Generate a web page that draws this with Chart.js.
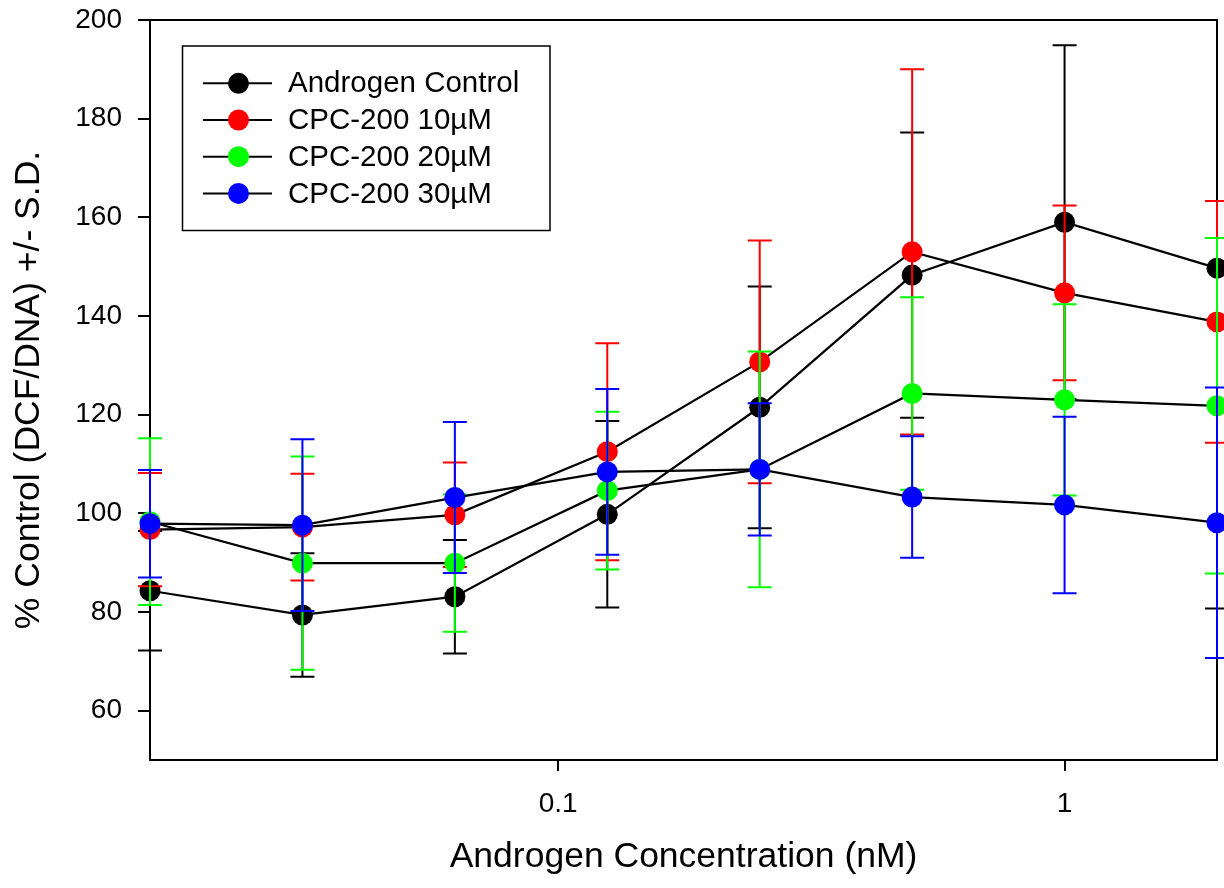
<!DOCTYPE html>
<html>
<head>
<meta charset="utf-8">
<script src="https://cdn.jsdelivr.net/npm/chart.js@4/dist/chart.umd.min.js"></script>
<style>
  html, body { margin: 0; padding: 0; background: #fff; }
</style>
</head>
<body>
<canvas id="myChart" width="1224" height="888"></canvas>
<script>
// androgen concentrations (nM)
const conc = [0.015625, 0.03125, 0.0625, 0.125, 0.25, 0.5, 1, 2];

const seriesNames = ['Androgen Control', 'CPC-200 10µM', 'CPC-200 20µM', 'CPC-200 30µM'];
const seriesColors = ['#000000', '#ff0000', '#00ff00', '#0000ff'];

const controlMean = [84.3, 79.4, 83.1, 99.8, 121.5, 148.3, 159.0, 149.7];
const controlSD   = [12.1, 12.5, 11.5, 18.9, 24.5, 28.9, 35.9, 69.0];

const cpc10Mean = [96.7, 97.2, 99.7, 112.5, 130.7, 153.0, 144.7, 138.8];
const cpc10SD   = [11.5, 10.8, 10.6, 22.0, 24.6, 37.0, 17.7, 24.5];

const cpc20Mean = [98.3, 89.9, 89.9, 104.6, 108.9, 124.3, 123.0, 121.8];
const cpc20SD   = [16.9, 21.6, 13.9, 16.0, 23.9, 19.5, 19.4, 34.0];

const cpc30Mean = [97.9, 97.6, 103.2, 108.4, 108.9, 103.3, 101.7, 98.1];
const cpc30SD   = [10.9, 17.4, 15.3, 16.8, 13.4, 12.3, 17.9, 27.4];

const xTickValues = [0.1, 1];
const yTickValues = [60, 80, 100, 120, 140, 160, 180, 200];

const means = [controlMean, cpc10Mean, cpc20Mean, cpc30Mean];
const sds = [controlSD, cpc10SD, cpc20SD, cpc30SD];

const FONT = "'Liberation Sans', Arial, Helvetica, sans-serif";

// error bars drawn per dataset, just before its line and markers
const errorBars = {
  id: 'errorBars',
  beforeDatasetDraw(chart, args) {
    const ds = chart.data.datasets[args.index];
    const {ctx, chartArea, scales: {x, y}} = chart;
    ctx.save();
    ctx.beginPath();
    ctx.rect(0, chartArea.top, chart.width, chartArea.bottom - chartArea.top);
    ctx.clip();
    ctx.strokeStyle = ds.pointBackgroundColor;
    ctx.lineWidth = 2;
    ds.data.forEach((p, i) => {
      const px = x.getPixelForValue(p.x);
      const top = y.getPixelForValue(p.y + ds.sd[i]);
      const bot = y.getPixelForValue(p.y - ds.sd[i]);
      ctx.beginPath();
      ctx.moveTo(px, top); ctx.lineTo(px, bot);
      ctx.moveTo(px - 12, top); ctx.lineTo(px + 12, top);
      ctx.moveTo(px - 12, bot); ctx.lineTo(px + 12, bot);
      ctx.stroke();
    });
    ctx.restore();
  }
};

// top and right sides of the frame
const frame = {
  id: 'frame',
  beforeDatasetsDraw(chart) {
    const {ctx, chartArea: a} = chart;
    ctx.save();
    ctx.strokeStyle = '#000';
    ctx.lineWidth = 2;
    ctx.beginPath();
    ctx.moveTo(a.left, a.top);
    ctx.lineTo(a.right, a.top);
    ctx.lineTo(a.right, a.bottom);
    ctx.stroke();
    ctx.restore();
  }
};

// boxed legend with line + marker samples
const boxLegend = {
  id: 'boxLegend',
  afterDraw(chart) {
    const ctx = chart.ctx;
    ctx.save();
    ctx.strokeStyle = '#000';
    ctx.lineWidth = 1.5;
    ctx.strokeRect(182.5, 46, 367.5, 184.5);
    ctx.font = '29.5px ' + FONT;
    ctx.textBaseline = 'middle';
    ctx.textAlign = 'left';
    chart.data.datasets.forEach((ds, i) => {
      const yy = 83.3 + i * 36.7;
      ctx.strokeStyle = '#000';
      ctx.lineWidth = 2;
      ctx.beginPath();
      ctx.moveTo(203, yy); ctx.lineTo(272, yy);
      ctx.stroke();
      ctx.fillStyle = ds.pointBackgroundColor;
      ctx.beginPath();
      ctx.arc(238.5, yy, 10.5, 0, Math.PI * 2);
      ctx.fill();
      ctx.fillStyle = '#000';
      ctx.fillText(ds.label, 288, yy + 1);
    });
    ctx.restore();
  }
};

const datasets = seriesNames.map((name, s) => ({
  label: name,
  data: conc.map((c, i) => ({x: c, y: means[s][i]})),
  sd: sds[s],
  borderColor: '#000',
  borderWidth: 2.2,
  pointBackgroundColor: seriesColors[s],
  pointBorderColor: seriesColors[s],
  pointBorderWidth: 0,
  pointRadius: 10.5,
  pointHoverRadius: 10.5,
  tension: 0,
  fill: false,
  clip: false,
  order: seriesNames.length - s
}));

const ctx = document.getElementById('myChart').getContext('2d');
new Chart(ctx, {
  type: 'line',
  data: { datasets },
  plugins: [errorBars, frame, boxLegend],
  options: {
    responsive: false,
    animation: false,
    devicePixelRatio: 1,
    layout: { autoPadding: false, padding: { left: 0, right: 7, top: 20, bottom: 0 } },
    plugins: {
      legend: { display: false },
      tooltip: { enabled: false }
    },
    scales: {
      x: {
        type: 'logarithmic',
        min: 0.015625,
        max: 2,
        afterBuildTicks: scale => { scale.ticks = xTickValues.map(v => ({value: v})); },
        afterFit: scale => {
          scale.height = 128;
          scale.paddingLeft = 0;
          scale.paddingRight = 0;
        },
        ticks: {
          color: '#000',
          font: { family: FONT, size: 28 },
          padding: 16,
          maxRotation: 0,
          autoSkip: false,
          callback: v => String(v)
        },
        grid: { drawOnChartArea: false, drawTicks: true, tickLength: 11, color: '#000', lineWidth: 2 },
        border: { display: true, color: '#000', width: 2 },
        title: {
          display: true,
          text: 'Androgen Concentration (nM)',
          color: '#000',
          font: { family: FONT, size: 35.5 },
          padding: { top: 0, bottom: 9 }
        }
      },
      y: {
        type: 'linear',
        min: 50,
        max: 200,
        afterBuildTicks: scale => { scale.ticks = yTickValues.map(v => ({value: v})); },
        afterFit: scale => {
          scale.width = 150;
          scale.paddingTop = 0;
          scale.paddingBottom = 0;
        },
        ticks: {
          color: '#000',
          font: { family: FONT, size: 28 },
          padding: 16
        },
        grid: { drawOnChartArea: false, drawTicks: true, tickLength: 12, color: '#000', lineWidth: 2 },
        border: { display: true, color: '#000', width: 2 },
        title: {
          display: true,
          text: '% Control (DCF/DNA) +/- S.D.',
          color: '#000',
          font: { family: FONT, size: 35.5 },
          padding: { top: 8, bottom: 0 }
        }
      }
    }
  }
});
</script>
</body>
</html>
